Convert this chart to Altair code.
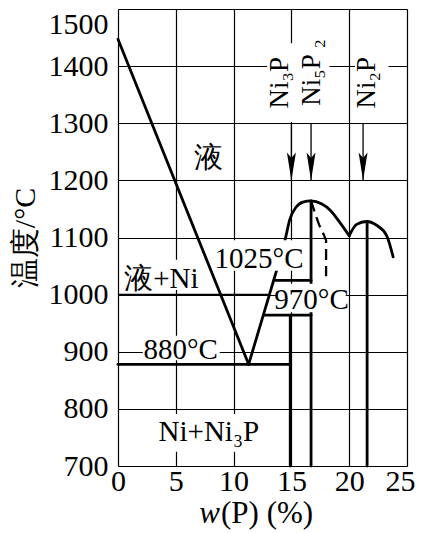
import altair as alt
import pandas as pd

# ---------------- data ----------------
x_ticks = [0, 5, 10, 15, 20, 25]
t_ticks = [700, 800, 900, 1000, 1100, 1200, 1300, 1400, 1500]

# straight phase boundaries (w(P) %, temperature °C)
seg_x1 = [0.0, 11.3, 0.0, 14.9, 12.6, 13.5, 16.7, 21.55]
seg_x2 = [11.3, 14.2, 14.9, 14.9, 16.7, 16.7, 16.7, 21.55]
seg_t1 = [1447, 878, 878, 700, 964, 1025, 700, 700]
seg_t2 = [878, 1075, 878, 964, 964, 1025, 1164, 1128]

# 1000 °C line in the 液+Ni field
l1000_x = [0.0, 13.1]
l1000_t = [1000, 1000]

# liquidus domes
dome1_x = [14.2, 14.5, 14.87, 15.4, 16.0, 16.7, 17.6, 18.4, 19.2, 20.0]
dome1_t = [1075, 1100, 1132, 1153, 1162, 1164, 1159, 1147, 1126, 1103]
dome2_x = [20.0, 20.64, 21.5, 22.4, 23.25, 23.8]
dome2_t = [1103, 1123, 1128, 1121, 1103, 1066]

# dashed boundary
dash_x = [16.7, 17.0, 17.4, 17.8, 18.0, 18.0]
dash_t = [1164, 1145, 1122, 1105, 1095, 1032]

# compound arrows
arrow_x = [15.0, 16.7, 21.2]
arrow_top = [1300, 1300, 1300]
arrow_tip = [1200, 1200, 1200]

# compound labels (rotated)
comp_text = ["Ni₃P", "Ni₅P ₂", "Ni₂P"]
comp_x = [14.7, 17.46, 22.2]
comp_t = [1371, 1389, 1371]

# field / temperature labels
reg_text = ["液", "液+Ni", "1025°C", "970°C", "880°C", "Ni+Ni₃P"]
reg_x = [7.86, 3.75, 12.2, 16.74, 5.42, 7.86]
reg_t = [1224, 1012, 1047, 974, 887, 743]

# white backgrounds behind labels
box_x1 = [12.9, 20.5, 8.25, 13.8, 2.15, 0.2, 2.7]
box_x2 = [18.3, 23.4, 16.1, 19.7, 8.8, 7.5, 13.0]
box_t1 = [1302, 1302, 1042, 969, 885, 1008, 725]
box_t2 = [1440, 1440, 1095, 1019, 928, 1061, 791]

xtitle_parts = ["w", "(P) (%)"]

# ---------------- chart ----------------
SERIF = "Liberation Serif"

xs = alt.Scale(domain=[0, 25], nice=False, zero=False)
ys = alt.Scale(domain=[700, 1500], nice=False, zero=False)

xaxis = alt.Axis(values=x_ticks, format="d", title=None, grid=True, ticks=False, domain=False,
                 labelFont=SERIF, labelFontSize=30, labelColor="black",
                 labelPadding=0, labelAngle=0, labelFlush=False, labelOverlap=False,
                 gridColor="black", gridWidth=1.2, gridOpacity=1,
                 labelOffset={"condition": {"test": "datum.value == 25", "value": -7}, "value": 0})
yaxis = alt.Axis(values=t_ticks, format="d", title="温度/°C", titleFont=SERIF, titleFontSize=30,
                 titleFontWeight="normal", titleColor="black", titlePadding=8,
                 grid=True, ticks=False, domain=False,
                 labelFont=SERIF, labelFontSize=30, labelColor="black",
                 labelPadding=10, labelFlush=False, labelOverlap=False,
                 gridColor="black", gridWidth=1.2, gridOpacity=1,
                 labelOffset={"condition": {"test": "datum.value == 1500", "value": 15}, "value": 0})


def X(f):
    return alt.X(f, type="quantitative", scale=xs, axis=xaxis)


def Y(f):
    return alt.Y(f, type="quantitative", scale=ys, axis=yaxis)


segs = pd.DataFrame({"x1": seg_x1, "x2": seg_x2, "t1": seg_t1, "t2": seg_t2})
seg_layer = alt.Chart(segs).mark_rule(color="black", strokeWidth=2.8, strokeCap="round").encode(
    x=X("x1"), x2="x2", y=Y("t1"), y2="t2")

l1000 = alt.Chart(pd.DataFrame({"x": l1000_x, "t": l1000_t})).mark_line(
    color="black", strokeWidth=1.8).encode(x=X("x"), y=Y("t"))

domes = pd.concat([
    pd.DataFrame({"x": dome1_x, "t": dome1_t, "seg": "a"}),
    pd.DataFrame({"x": dome2_x, "t": dome2_t, "seg": "b"}),
])
dome_layer = alt.Chart(domes).mark_line(color="black", strokeWidth=2.8, interpolate="monotone",
                                        strokeCap="round").encode(
    x=X("x"), y=Y("t"), detail="seg:N")

dash_df = pd.DataFrame({"x": dash_x, "t": dash_t, "i": list(range(len(dash_x)))})
dash_layer = alt.Chart(dash_df).mark_line(color="black", strokeWidth=2.3,
                                          strokeDash=[11, 6]).encode(
    x=X("x"), y=Y("t"), order="i:Q")

arr = pd.DataFrame({"x": arrow_x, "t1": arrow_top, "t2": arrow_tip})
arrow_lines = alt.Chart(arr).mark_rule(color="black", strokeWidth=1.3).encode(
    x=X("x"), y=Y("t1"), y2="t2")
arrow_heads = alt.Chart(arr).mark_point(
    shape="M0,1L-0.32,-1L0,-0.6L0.32,-1Z", size=784, filled=True, color="black",
    opacity=1, yOffset=-14).encode(x=X("x"), y=Y("t2"))

boxes = pd.DataFrame({"x1": box_x1, "x2": box_x2, "t1": box_t1, "t2": box_t2})
box_layer = alt.Chart(boxes).mark_rect(color="white", opacity=1).encode(
    x=X("x1"), x2="x2", y=Y("t1"), y2="t2")

comp = pd.DataFrame({"x": comp_x, "t": comp_t, "s": comp_text})
comp_layer = alt.Chart(comp).mark_text(angle=270, align="center", baseline="alphabetic",
                                       font=SERIF, fontSize=27, color="black").encode(
    x=X("x"), y=Y("t"), text="s:N")

reg = pd.DataFrame({"x": reg_x, "t": reg_t, "s": reg_text})
reg_layer = alt.Chart(reg).mark_text(align="center", baseline="alphabetic",
                                     font=SERIF, fontSize=29, color="black").encode(
    x=X("x"), y=Y("t"), text="s:N")

xt_w = alt.Chart(pd.DataFrame({"s": xtitle_parts[:1]})).mark_text(
    align="right", baseline="alphabetic", font=SERIF, fontSize=31,
    fontStyle="italic", color="black").encode(
    x=alt.value(102), y=alt.value(514), text="s:N")
xt_rest = alt.Chart(pd.DataFrame({"s": xtitle_parts[1:]})).mark_text(
    align="left", baseline="alphabetic", font=SERIF, fontSize=31,
    color="black").encode(
    x=alt.value(103), y=alt.value(514), text="s:N")

chart = alt.layer(
    seg_layer, l1000, dome_layer, dash_layer, arrow_lines, arrow_heads,
    box_layer, comp_layer, reg_layer, xt_w, xt_rest
).properties(
    width=289, height=457,
    autosize=alt.AutoSizeParams(type="none"),
    padding={"left": 110, "top": 1, "right": 9, "bottom": 67},
).configure_view(stroke="black", strokeWidth=2).configure(background="white")

chart.save("out.html", embed_options={"renderer": "svg", "actions": False})
